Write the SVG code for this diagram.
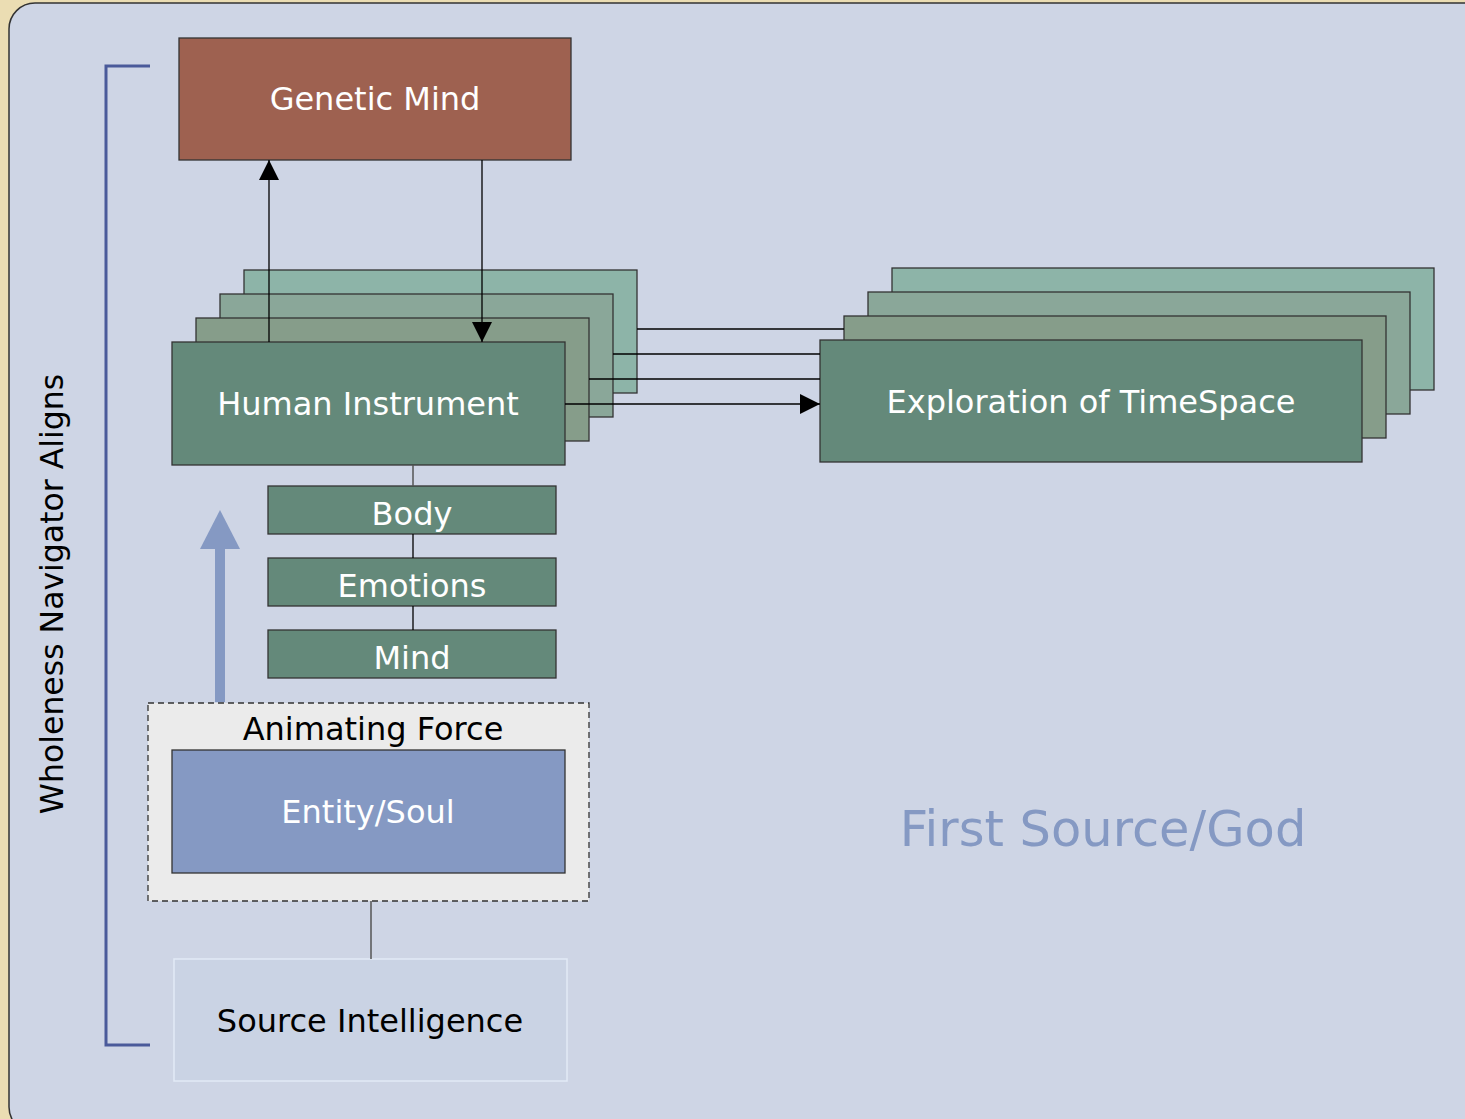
<svg xmlns="http://www.w3.org/2000/svg" width="1465" height="1119" viewBox="0 0 1465 1119">
<style>
.t{font-family:"DejaVu Sans","Verdana",sans-serif;text-anchor:middle;dominant-baseline:central}
.w{fill:#ffffff}
.k{fill:#000000}
.box{stroke:#333333;stroke-width:1.3}
.c{stroke:#000000;stroke-width:1.3;fill:none}
.g1{fill:#64897A}
.g2{fill:#869D8A}
.g3{fill:#8AA799}
.g4{fill:#8DB4A8}
</style>
<defs>
<marker id="ah" markerWidth="20" markerHeight="20" viewBox="0 0 20 20" refX="20" refY="10" orient="auto" markerUnits="userSpaceOnUse">
<path d="M0,0 L20,10 L0,20 Z" fill="#000000"/>
</marker>
</defs>
<rect x="0" y="0" width="1465" height="1119" fill="#EBDDB3"/>
<rect x="9" y="3" width="1480" height="1130" rx="26" ry="26" fill="#CED5E5" stroke="#333333" stroke-width="1.5"/>

<g id="bracket">
<path d="M150,66 H106 V1045 H150" fill="none" stroke="#4A5A9A" stroke-width="3"/>
<text class="t k" x="52" y="594" font-size="31.5" transform="rotate(-90 52 594)">Wholeness Navigator Aligns</text>
</g>

<g id="genetic-mind">
<rect class="box" x="179" y="38" width="392" height="122" fill="#9E6150"/>
<text class="t w" x="375" y="99" font-size="32">Genetic Mind</text>
</g>

<g id="human-instrument">
<rect class="box g4" x="244" y="270" width="393" height="123"/>
<rect class="box g3" x="220" y="294" width="393" height="123"/>
<rect class="box g2" x="196" y="318" width="393" height="123"/>
<rect class="box g1" x="172" y="342" width="393" height="123"/>
<text class="t w" x="368" y="404" font-size="32">Human Instrument</text>
</g>

<g id="exploration">
<rect class="box g4" x="892" y="268" width="542" height="122"/>
<rect class="box g3" x="868" y="292" width="542" height="122"/>
<rect class="box g2" x="844" y="316" width="542" height="122"/>
<rect class="box g1" x="820" y="340" width="542" height="122"/>
<text class="t w" x="1091" y="402" font-size="32">Exploration of TimeSpace</text>
</g>

<g id="body">
<rect class="box g1" x="268" y="486" width="288" height="48"/>
<text class="t w" x="412" y="514" font-size="32">Body</text>
</g>
<g id="emotions">
<rect class="box g1" x="268" y="558" width="288" height="48"/>
<text class="t w" x="412" y="586" font-size="32">Emotions</text>
</g>
<g id="mind">
<rect class="box g1" x="268" y="630" width="288" height="48"/>
<text class="t w" x="412" y="658" font-size="32">Mind</text>
</g>

<g id="up-arrow">
<rect x="215" y="546" width="10" height="156" fill="#8599C3"/>
<path d="M220,510 L240,549 L200,549 Z" fill="#8599C3"/>
</g>

<g id="animating-force">
<rect x="148" y="703" width="441" height="198" fill="#EBEBEB" stroke="#333333" stroke-width="1.3" stroke-dasharray="6,4"/>
<text class="t k" x="373" y="729" font-size="32">Animating Force</text>
</g>
<g id="entity-soul">
<rect class="box" x="172" y="750" width="393" height="123" fill="#8599C3"/>
<text class="t w" x="368" y="812" font-size="32">Entity/Soul</text>
</g>

<g id="source-intelligence">
<rect x="174" y="959" width="393" height="122" fill="#CAD3E4" stroke="#E2EAF6" stroke-width="1.5"/>
<text class="t k" x="370" y="1021" font-size="32">Source Intelligence</text>
</g>

<g id="first-source">
<text class="t" x="1103" y="829" font-size="49.5" fill="#8599C3">First Source/God</text>
</g>

<g id="connectors">
<line class="c" x1="637" y1="329" x2="844" y2="329"/>
<line class="c" x1="613" y1="354" x2="820" y2="354"/>
<line class="c" x1="589" y1="379" x2="820" y2="379"/>
<line class="c" x1="565" y1="404" x2="820" y2="404" marker-end="url(#ah)"/>
<line class="c" x1="269" y1="342" x2="269" y2="160" marker-end="url(#ah)"/>
<line class="c" x1="482" y1="160" x2="482" y2="342" marker-end="url(#ah)"/>
<line stroke="#555555" stroke-width="1.5" x1="413" y1="465" x2="413" y2="486"/>
<line class="c" x1="413" y1="534" x2="413" y2="558"/>
<line class="c" x1="413" y1="606" x2="413" y2="630"/>
<line stroke="#555555" stroke-width="1.5" x1="371" y1="901" x2="371" y2="959"/>
</g>
</svg>
